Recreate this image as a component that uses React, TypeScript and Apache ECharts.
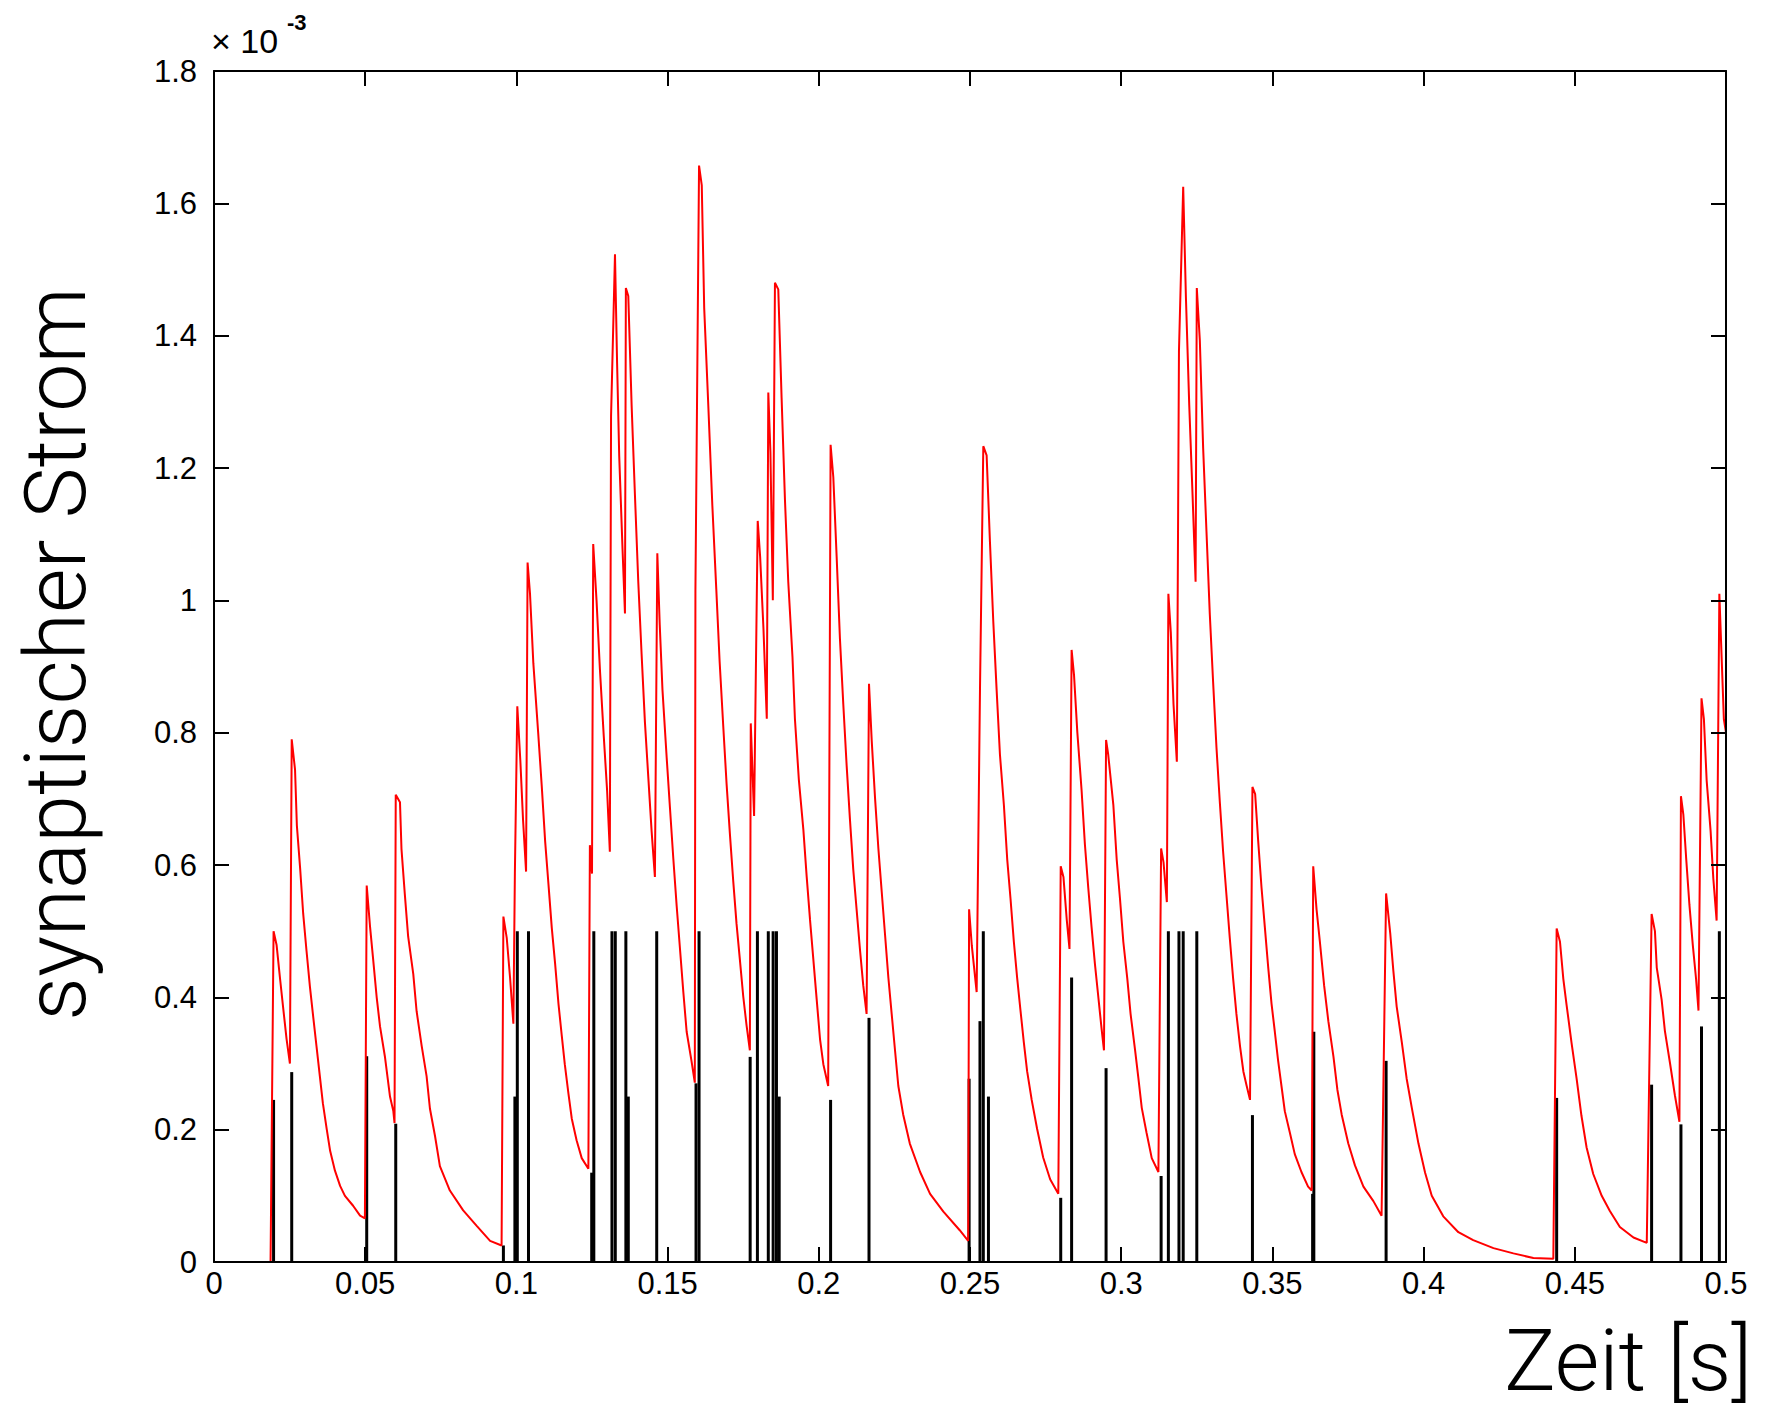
import React, { useEffect, useRef } from "react";
import * as echarts from "echarts";

// synaptic current (red), time in s, value in 1e-3 units
const currentTime = [
  0, 0.0187, 0.0197, 0.0207, 0.0218, 0.0229, 0.024, 0.0251, 0.0257, 0.0268, 0.0274, 0.0285, 0.0295, 0.0306, 0.0317,
  0.0328, 0.0339, 0.035, 0.036, 0.0373, 0.0384, 0.04, 0.0417, 0.0433, 0.046, 0.0483, 0.0499, 0.0505, 0.0516, 0.0527,
  0.0538, 0.0549, 0.0565, 0.0582, 0.0593, 0.0597, 0.0601, 0.0615, 0.062, 0.0631, 0.0642, 0.0659, 0.067, 0.0687, 0.0703,
  0.0714, 0.0731, 0.0747, 0.078, 0.0824, 0.0868, 0.0913, 0.0951, 0.0957, 0.0968, 0.0979, 0.099, 0.0995, 0.1003, 0.1013,
  0.1022, 0.1032, 0.1037, 0.1045, 0.1056, 0.1072, 0.1084, 0.1095, 0.1106, 0.1117, 0.1128, 0.1139, 0.115, 0.116, 0.1172,
  0.1183, 0.1199, 0.1216, 0.1238, 0.1243, 0.125, 0.1254, 0.1265, 0.1276, 0.1289, 0.13, 0.1309, 0.1313, 0.1326, 0.1333,
  0.134, 0.1351, 0.1359, 0.1362, 0.137, 0.1381, 0.1392, 0.1403, 0.1414, 0.1425, 0.1436, 0.1447, 0.1458, 0.1466, 0.1474,
  0.1483, 0.1497, 0.1508, 0.1519, 0.153, 0.1541, 0.1552, 0.1563, 0.1579, 0.159, 0.1592, 0.1604, 0.1613, 0.1621, 0.1635,
  0.1648, 0.1661, 0.1672, 0.1684, 0.1695, 0.1706, 0.1717, 0.1728, 0.1739, 0.175, 0.1761, 0.1772, 0.1775, 0.1786, 0.1798,
  0.1806, 0.1817, 0.1828, 0.1833, 0.184, 0.1848, 0.1855, 0.1866, 0.1877, 0.1888, 0.1899, 0.1913, 0.1921, 0.1934, 0.1949,
  0.196, 0.1971, 0.1982, 0.1993, 0.2004, 0.2015, 0.2031, 0.2039, 0.2048, 0.2059, 0.207, 0.2081, 0.2092, 0.2103, 0.2114,
  0.2125, 0.2136, 0.2147, 0.2158, 0.2166, 0.2175, 0.2186, 0.2197, 0.2208, 0.2219, 0.223, 0.2241, 0.2252, 0.2263, 0.2279,
  0.2301, 0.2335, 0.2368, 0.2412, 0.2466, 0.2494, 0.2497, 0.2506, 0.2522, 0.2533, 0.2544, 0.2555, 0.2566, 0.2577, 0.2588,
  0.2599, 0.2612, 0.2623, 0.2634, 0.2645, 0.2656, 0.2667, 0.2678, 0.2689, 0.2704, 0.2722, 0.2742, 0.2765, 0.2792, 0.28,
  0.2809, 0.282, 0.2829, 0.2836, 0.2844, 0.2855, 0.2869, 0.288, 0.2891, 0.2902, 0.2913, 0.2924, 0.2935, 0.2943, 0.295,
  0.2957, 0.2974, 0.2985, 0.2996, 0.3007, 0.302, 0.3031, 0.3046, 0.3057, 0.3068, 0.3084, 0.3101, 0.3123, 0.3132, 0.314,
  0.3151, 0.3156, 0.3164, 0.3173, 0.3184, 0.3191, 0.3205, 0.3214, 0.3225, 0.3236, 0.3246, 0.325, 0.326, 0.3271, 0.3282,
  0.3293, 0.3304, 0.3315, 0.3326, 0.3337, 0.3348, 0.3359, 0.337, 0.3381, 0.3393, 0.3404, 0.3415, 0.3426, 0.3434, 0.3443,
  0.3453, 0.3464, 0.3475, 0.3486, 0.3497, 0.3508, 0.3519, 0.353, 0.3541, 0.3558, 0.3574, 0.3596, 0.3618, 0.363, 0.3635,
  0.3646, 0.3657, 0.3671, 0.3685, 0.3702, 0.3715, 0.3729, 0.3751, 0.3773, 0.3801, 0.3834, 0.3861, 0.3876, 0.389, 0.39,
  0.3911, 0.3928, 0.3944, 0.3961, 0.3983, 0.4005, 0.4027, 0.4065, 0.4115, 0.4164, 0.4231, 0.4297, 0.4363, 0.4429, 0.444,
  0.4451, 0.4462, 0.4473, 0.4489, 0.4506, 0.4522, 0.4539, 0.4561, 0.4589, 0.4616, 0.4649, 0.4694, 0.4738, 0.4754, 0.4765,
  0.4771, 0.4787, 0.4798, 0.4815, 0.4831, 0.4846, 0.4851, 0.4859, 0.4868, 0.4879, 0.489, 0.4901, 0.4909, 0.4919, 0.4927,
  0.4936, 0.4949, 0.4958, 0.4969, 0.4978, 0.4986, 0.4993, 0.5,
];
const currentValue = [
  0, 0, 0.5, 0.479, 0.43, 0.383, 0.337, 0.3, 0.79, 0.744, 0.66, 0.594, 0.526, 0.47, 0.417,
  0.371, 0.326, 0.281, 0.24, 0.2, 0.168, 0.138, 0.115, 0.1, 0.085, 0.07, 0.066, 0.569, 0.507, 0.454,
  0.4, 0.356, 0.311, 0.25, 0.228, 0.21, 0.706, 0.695, 0.624, 0.556, 0.492, 0.435, 0.379, 0.326, 0.281,
  0.232, 0.19, 0.145, 0.108, 0.078, 0.055, 0.032, 0.025, 0.522, 0.49, 0.43, 0.36, 0.589, 0.84, 0.758,
  0.668, 0.59, 1.057, 1.01, 0.905, 0.8, 0.718, 0.636, 0.571, 0.505, 0.451, 0.391, 0.342, 0.299, 0.255,
  0.217, 0.184, 0.157, 0.141, 0.63, 0.587, 1.085, 1.0, 0.897, 0.794, 0.712, 0.62, 1.278, 1.523, 1.358,
  1.218, 1.077, 0.98, 1.472, 1.46, 1.295, 1.159, 1.028, 0.919, 0.816, 0.734, 0.652, 0.582, 1.071, 0.963,
  0.865, 0.762, 0.685, 0.609, 0.538, 0.473, 0.408, 0.348, 0.304, 0.271, 1.015, 1.657, 1.627, 1.442, 1.29,
  1.143, 1.017, 0.908, 0.81, 0.723, 0.647, 0.576, 0.511, 0.457, 0.402, 0.358, 0.32, 0.814, 0.674, 1.12,
  1.066, 0.957, 0.821, 1.314, 1.224, 1.0, 1.48, 1.47, 1.306, 1.153, 1.028, 0.914, 0.821, 0.729, 0.653,
  0.582, 0.517, 0.457, 0.397, 0.337, 0.299, 0.266, 1.235, 1.186, 1.066, 0.941, 0.843, 0.751, 0.669, 0.593,
  0.533, 0.473, 0.418, 0.375, 0.874, 0.788, 0.701, 0.625, 0.56, 0.495, 0.43, 0.375, 0.32, 0.266, 0.223,
  0.179, 0.136, 0.103, 0.076, 0.048, 0.032, 0.533, 0.478, 0.408, 0.865, 1.233, 1.219, 1.088, 0.968, 0.865,
  0.767, 0.691, 0.609, 0.549, 0.484, 0.429, 0.38, 0.332, 0.288, 0.245, 0.201, 0.158, 0.125, 0.103, 0.598,
  0.582, 0.517, 0.473, 0.925, 0.887, 0.8, 0.713, 0.631, 0.566, 0.506, 0.451, 0.402, 0.353, 0.32, 0.789,
  0.767, 0.691, 0.609, 0.549, 0.484, 0.429, 0.375, 0.32, 0.277, 0.233, 0.195, 0.157, 0.136, 0.625, 0.604,
  0.544, 1.01, 0.952, 0.843, 0.756, 1.376, 1.625, 1.458, 1.295, 1.159, 1.028, 1.472, 1.393, 1.23, 1.104,
  0.979, 0.876, 0.778, 0.696, 0.62, 0.555, 0.49, 0.429, 0.375, 0.326, 0.288, 0.266, 0.245, 0.718, 0.707,
  0.636, 0.566, 0.506, 0.446, 0.391, 0.348, 0.304, 0.266, 0.228, 0.195, 0.163, 0.136, 0.114, 0.108, 0.598,
  0.533, 0.484, 0.418, 0.364, 0.31, 0.26, 0.223, 0.179, 0.146, 0.114, 0.092, 0.07, 0.557, 0.495, 0.44,
  0.386, 0.332, 0.277, 0.233, 0.179, 0.135, 0.1, 0.069, 0.045, 0.033, 0.021, 0.013, 0.006, 0.005, 0.504,
  0.484, 0.428, 0.388, 0.332, 0.277, 0.221, 0.173, 0.133, 0.1, 0.077, 0.053, 0.037, 0.029, 0.526, 0.5,
  0.445, 0.397, 0.349, 0.3, 0.252, 0.212, 0.704, 0.676, 0.612, 0.54, 0.48, 0.428, 0.38, 0.852, 0.82,
  0.728, 0.652, 0.58, 0.516, 1.01, 0.908, 0.82, 0.8,
];

// input spikes (black stems): time in s, visible height in 1e-3 units
const spikeTime = [
  0.0197, 0.0257, 0.0505, 0.0601, 0.0957, 0.0995, 0.1003, 0.104, 0.1249, 0.1256, 0.1316, 0.1327, 0.1362, 0.137,
  0.1464, 0.1594, 0.1604, 0.1773, 0.1797, 0.1833, 0.1849, 0.186, 0.1869, 0.2039, 0.2166, 0.2497, 0.2533, 0.2544,
  0.2561, 0.28, 0.2836, 0.295, 0.3132, 0.3156, 0.3191, 0.3205, 0.325, 0.3434, 0.3633, 0.3637, 0.3876, 0.444, 0.4754,
  0.4851, 0.4919, 0.4978,
];
const spikeHeight = [
  0.245, 0.287, 0.311, 0.209, 0.025, 0.25, 0.5, 0.5, 0.135, 0.5, 0.5, 0.5, 0.5, 0.25,
  0.5, 0.27, 0.5, 0.31, 0.5, 0.5, 0.5, 0.5, 0.25, 0.245, 0.369, 0.277, 0.364, 0.5,
  0.25, 0.097, 0.43, 0.293, 0.13, 0.5, 0.5, 0.5, 0.5, 0.222, 0.103, 0.348, 0.304, 0.248, 0.268,
  0.208, 0.356, 0.5,
];

const xMin = 0;
const xMax = 0.5;
const xStep = 0.05;
const yMin = 0;
const yMax = 1.8;
const yStep = 0.2;

const xTitle = "Zeit [s]";
const yTitle = "synaptischer Strom";
const scaleText = "× 10";
const scaleExp = "-3";

const fmt = (v: number) => String(parseFloat(v.toFixed(3)));

export default function App() {
  const ref = useRef<HTMLDivElement>(null);
  useEffect(() => {
    const chart = echarts.init(ref.current!, null, { renderer: "svg" });
    const lineData = currentTime.map((t, i) => [t, currentValue[i]]);
    const stemData = spikeTime.map((t, i) => [t, spikeHeight[i]]);
    const axisLine = { show: true, onZero: false, lineStyle: { color: "#000", width: 2 } };
    const tick = { show: true, inside: true, length: 15, lineStyle: { color: "#000", width: 2 } };
    const labelFont = { color: "#000", fontSize: 31, fontFamily: "Liberation Sans" };
    chart.setOption({
      animation: false,
      backgroundColor: "#fff",
      grid: { left: 214, top: 71, width: 1512, height: 1191, containLabel: false },
      xAxis: [
        {
          type: "value", min: xMin, max: xMax, interval: xStep, position: "bottom", z: 5,
          axisLine, axisTick: tick, splitLine: { show: false },
          axisLabel: { ...labelFont, margin: 6, formatter: fmt },
        },
        {
          type: "value", min: xMin, max: xMax, interval: xStep, position: "top", z: 5,
          axisLine, axisTick: tick, splitLine: { show: false },
          axisLabel: { show: false },
        },
      ],
      yAxis: [
        {
          type: "value", min: yMin, max: yMax, interval: yStep, position: "left", z: 5,
          axisLine, axisTick: tick, splitLine: { show: false },
          axisLabel: { ...labelFont, margin: 17, formatter: fmt },
        },
        {
          type: "value", min: yMin, max: yMax, interval: yStep, position: "right", z: 5,
          axisLine, axisTick: tick, splitLine: { show: false },
          axisLabel: { show: false },
        },
      ],
      series: [
        {
          type: "custom",
          xAxisIndex: 0,
          yAxisIndex: 0,
          z: 2,
          data: stemData,
          encode: { x: 0, y: 1 },
          renderItem: (params: any, api: any) => {
            const t = api.value(0);
            const h = api.value(1);
            const p0 = api.coord([t, 0]);
            const p1 = api.coord([t, h]);
            return {
              type: "line",
              shape: { x1: p0[0], y1: p0[1], x2: p1[0], y2: p1[1] },
              style: { stroke: "#000", lineWidth: 3 },
            };
          },
        },
        {
          type: "line",
          xAxisIndex: 0,
          yAxisIndex: 0,
          z: 3,
          data: lineData,
          showSymbol: false,
          symbol: "none",
          lineStyle: { color: "#ff0000", width: 2 },
          itemStyle: { color: "#ff0000" },
        },
      ],
      graphic: [
        {
          type: "text", x: 211, y: 41,
          style: { text: scaleText, fontSize: 34, fontFamily: "Liberation Sans", fill: "#000", align: "left", verticalAlign: "middle" },
        },
        {
          type: "text", x: 287, y: 22,
          style: { text: scaleExp, fontSize: 22, fontWeight: "bold", fontFamily: "Liberation Sans", fill: "#000", align: "left", verticalAlign: "middle" },
        },
        {
          type: "text", x: 1752, y: 1360,
          style: { text: xTitle, fontSize: 86, fontWeight: 300, fontFamily: "Roboto", fill: "#000", align: "right", verticalAlign: "middle" },
        },
        {
          type: "text", x: 55, y: 654, rotation: Math.PI / 2,
          style: { text: yTitle, fontSize: 86, fontWeight: 300, fontFamily: "Roboto", fill: "#000", align: "center", verticalAlign: "middle" },
        },
      ],
    });
    return () => chart.dispose();
  }, []);
  return (
    <div
      ref={ref}
      style={{ position: "fixed", left: 0, top: 0, width: 1784, height: 1410, background: "#fff" }}
    />
  );
}
